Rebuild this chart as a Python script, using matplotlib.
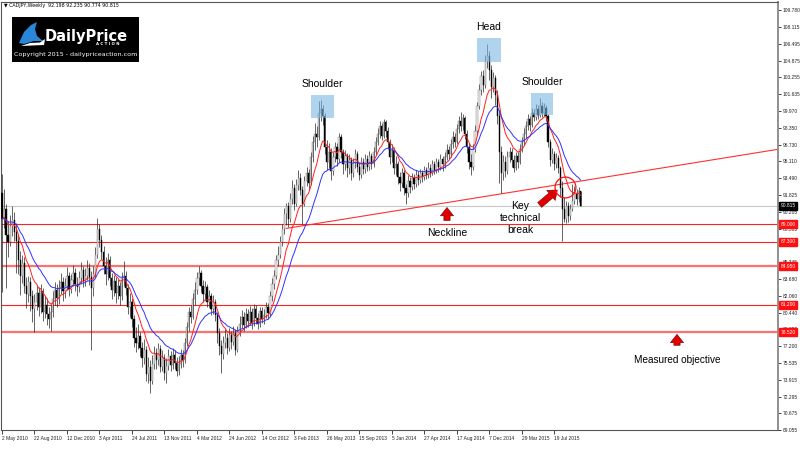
import matplotlib
import numpy as np
import pandas as pd

matplotlib.use("Agg")
import matplotlib.pyplot as plt  # noqa: E402
from matplotlib.patches import Rectangle, Polygon  # noqa: E402
from matplotlib.transforms import blended_transform_factory  # noqa: E402

# weekly CADJPY bars, 2 May 2010 .. 25 Oct 2015 (open = previous close)
first_open = 92.0
closes = [
    89.5, 90.5, 88.0, 87.3, 88.8, 89.4, 88.3, 87.4, 85.5, 84.0, 85.2, 83.0, 82.2, 83.4, 82.0, 80.8,
    81.5, 82.3, 81.0, 82.5, 80.5, 81.2, 80.3, 79.8, 80.5, 81.8, 82.6, 81.9, 82.8, 83.4, 82.5, 83.0,
    84.0, 82.7, 83.6, 84.3, 83.2, 82.9, 83.8, 84.6, 83.5, 84.0, 84.8, 83.9, 82.8, 84.2, 86.0, 88.5,
    87.5, 86.3, 85.0, 84.2, 85.5, 83.8, 82.6, 83.5, 82.3, 83.0, 82.0, 83.8, 84.0, 82.8, 81.0, 81.5,
    79.8, 78.0, 77.5, 78.2, 77.0, 76.0, 76.8, 74.5, 75.2, 73.8, 75.5, 76.5, 75.8, 76.9, 75.2, 76.0,
    74.6, 75.3, 76.2, 75.4, 76.3, 75.6, 74.8, 75.5, 76.3, 75.8, 77.5, 79.0, 80.5, 80.0, 81.8, 82.6,
    83.8, 84.3, 83.0, 82.2, 82.9, 81.5, 82.0, 80.8, 81.5, 80.2, 78.5, 77.2, 76.4, 77.5, 78.0, 77.0,
    78.3, 77.6, 78.5, 76.8, 78.6, 79.3, 80.0, 79.2, 80.3, 79.6, 80.5, 79.4, 80.8, 79.9, 79.3, 80.6,
    79.8, 80.2, 81.0, 80.4, 82.0, 83.2, 84.0, 85.5, 86.0, 87.3, 88.5, 90.0, 90.8, 89.5, 91.5, 92.5,
    91.0, 92.8, 93.5, 92.3, 91.0, 93.2, 94.0, 93.0, 95.5, 97.0, 97.8, 97.5, 99.8, 100.2, 99.5, 96.5,
    95.0, 96.0, 94.2, 95.5, 96.5, 95.3, 97.5, 96.0, 94.8, 95.6, 94.5, 95.2, 94.0, 94.9, 95.8, 94.6,
    93.8, 95.0, 94.4, 95.3, 94.6, 95.6, 94.8, 96.0, 97.0, 97.8, 98.5, 97.6, 98.9, 98.0, 97.0, 95.5,
    96.2, 94.5, 94.8, 93.6, 93.0, 94.0, 92.5, 92.0, 93.2, 92.6, 93.5, 92.9, 93.8, 93.3, 94.0, 93.6,
    94.3, 93.8, 94.5, 94.0, 94.8, 94.3, 95.0, 94.6, 95.3, 94.8, 95.5, 96.2, 95.8, 96.8, 97.5, 97.0,
    98.2, 99.0, 98.5, 99.3, 97.8, 96.5, 95.0, 94.6, 96.3, 98.0, 100.5, 102.0, 103.4, 102.5, 104.8, 105.3,
    104.0, 102.3, 103.2, 101.5, 99.5, 96.0, 94.0, 95.0, 94.2, 95.5, 96.0, 95.2, 94.5, 95.6, 95.0, 96.3,
    97.0, 97.8, 98.5, 99.2, 98.6, 99.8, 99.4, 100.2, 99.6, 100.5, 99.8, 100.3, 99.5, 97.0, 95.2, 95.8,
    94.8, 95.4, 94.5, 92.5, 90.5, 89.5, 90.8, 89.8, 90.5, 91.3, 92.0, 91.5, 92.198, 90.815,
]
highs = [
    93.9, 92.4, 91.0, 89.3, 89.9, 90.8, 90.2, 89.1, 88.0, 86.4, 86.0, 85.8, 83.9, 84.0, 83.9, 82.6,
    82.2, 83.1, 82.9, 83.2, 82.8, 82.0, 81.9, 81.0, 81.3, 82.5, 83.4, 83.2, 83.6, 84.3, 83.9, 83.8,
    84.9, 84.4, 84.2, 85.1, 84.8, 83.9, 84.5, 85.3, 85.0, 84.8, 85.5, 85.2, 84.5, 85.0, 86.8, 89.6,
    89.0, 88.0, 86.9, 85.8, 86.2, 85.9, 84.3, 84.1, 83.9, 83.7, 83.4, 84.4, 85.4, 84.5, 83.2, 82.3,
    81.9, 80.2, 79.0, 79.3, 78.6, 77.6, 77.9, 77.2, 76.1, 75.8, 76.3, 77.2, 77.0, 77.5, 77.3, 76.8,
    76.4, 76.0, 76.9, 76.7, 77.0, 76.8, 76.1, 76.2, 76.9, 76.8, 78.0, 79.5, 81.0, 81.2, 82.3, 83.4,
    84.4, 85.0, 84.6, 83.6, 83.5, 83.2, 82.6, 82.3, 82.1, 81.8, 80.5, 78.9, 77.8, 78.2, 78.8, 78.5,
    78.9, 78.7, 79.1, 78.8, 79.1, 80.1, 80.7, 80.5, 80.9, 80.8, 81.1, 80.9, 81.3, 81.2, 80.4, 81.0,
    81.0, 80.8, 81.5, 81.4, 82.5, 83.8, 84.6, 86.0, 86.9, 87.9, 89.0, 90.6, 91.1, 91.2, 92.0, 93.3,
    92.9, 93.4, 94.3, 94.0, 92.7, 93.7, 94.6, 94.4, 96.0, 97.6, 98.8, 98.5, 101.0, 101.1, 100.6, 99.8,
    97.2, 96.9, 96.4, 96.0, 97.0, 96.9, 97.9, 97.8, 96.3, 96.2, 95.9, 95.8, 95.5, 95.4, 96.3, 96.1,
    95.0, 95.5, 95.4, 95.8, 95.7, 96.1, 95.9, 96.5, 97.5, 98.3, 99.0, 98.8, 99.2, 99.1, 98.4, 97.3,
    96.8, 96.5, 95.6, 95.1, 94.1, 94.5, 94.3, 92.9, 93.8, 93.6, 94.0, 93.9, 94.3, 94.2, 94.4, 94.3,
    94.7, 94.6, 95.0, 94.8, 95.2, 95.1, 95.4, 95.3, 95.8, 95.6, 96.0, 96.8, 96.6, 97.3, 98.0, 97.9,
    98.7, 99.5, 99.9, 99.7, 99.5, 98.1, 96.9, 95.8, 96.8, 98.6, 100.9, 102.6, 103.9, 104.0, 105.4, 106.5,
    105.8, 104.4, 103.8, 103.5, 102.0, 100.1, 96.6, 95.7, 95.6, 96.1, 96.5, 96.4, 95.7, 96.0, 96.0, 96.8,
    97.5, 98.3, 99.0, 99.7, 99.5, 100.3, 100.2, 100.7, 100.6, 101.2, 100.9, 100.8, 100.6, 99.7, 97.3, 96.4,
    96.1, 95.9, 95.7, 94.7, 93.2, 91.6, 91.3, 91.2, 91.0, 92.9, 92.7, 92.4, 92.6, 92.235,
]
lows = [
    82.4, 88.6, 82.8, 85.8, 86.9, 87.9, 87.4, 84.3, 84.2, 82.1, 83.3, 82.3, 80.9, 81.5, 80.6, 79.5,
    78.6, 80.7, 80.1, 80.4, 79.6, 79.9, 79.2, 78.9, 78.7, 80.0, 81.2, 81.0, 81.3, 82.2, 81.6, 81.9,
    82.6, 82.0, 82.3, 83.0, 82.5, 82.0, 82.4, 83.2, 82.9, 83.0, 83.6, 83.1, 76.8, 82.0, 83.9, 85.7,
    86.8, 85.6, 84.2, 83.1, 83.6, 83.0, 81.8, 82.0, 81.4, 81.8, 81.2, 81.7, 83.0, 82.1, 80.3, 80.0,
    79.0, 77.1, 76.6, 76.9, 76.2, 75.2, 75.5, 73.8, 73.6, 72.6, 73.5, 75.0, 75.0, 75.4, 74.7, 74.8,
    73.9, 73.6, 74.9, 74.8, 75.0, 75.0, 74.3, 74.4, 75.1, 75.2, 75.6, 77.2, 78.7, 79.4, 79.8, 81.2,
    82.2, 83.1, 82.4, 81.5, 81.7, 81.0, 81.0, 80.2, 80.3, 79.6, 77.5, 76.3, 74.6, 75.9, 77.0, 76.4,
    76.7, 76.9, 77.3, 76.3, 76.6, 78.2, 78.9, 78.7, 78.9, 79.0, 79.2, 78.8, 79.1, 79.3, 78.8, 79.0,
    79.4, 79.3, 79.9, 79.8, 80.1, 81.6, 82.7, 83.7, 85.0, 85.7, 86.9, 88.1, 88.9, 88.7, 89.2, 91.0,
    90.4, 90.8, 92.3, 91.8, 89.0, 90.8, 92.7, 92.3, 92.8, 95.0, 96.2, 96.5, 97.2, 99.0, 98.6, 95.8,
    94.3, 94.5, 93.3, 93.8, 95.0, 94.7, 95.0, 95.4, 93.9, 94.3, 93.6, 93.9, 93.3, 93.6, 94.5, 94.1,
    93.3, 93.5, 93.9, 94.0, 94.2, 94.3, 94.4, 94.6, 95.7, 96.7, 97.4, 97.2, 97.4, 97.5, 96.3, 94.8,
    95.0, 93.9, 93.8, 92.9, 92.2, 92.6, 91.8, 91.0, 91.6, 92.0, 92.3, 92.4, 92.6, 92.8, 93.0, 93.1,
    93.3, 93.4, 93.5, 93.6, 93.8, 93.9, 94.0, 94.1, 94.3, 94.2, 94.5, 95.2, 95.3, 95.5, 96.4, 96.5,
    96.8, 97.9, 98.0, 98.1, 97.3, 95.9, 94.4, 93.8, 94.3, 96.0, 97.7, 100.2, 101.5, 101.8, 102.2, 104.2,
    103.0, 101.2, 101.8, 100.6, 98.7, 93.0, 92.0, 93.3, 93.6, 93.9, 95.0, 94.6, 94.1, 94.3, 94.5, 94.8,
    96.0, 96.7, 97.4, 98.1, 98.0, 98.4, 99.0, 99.1, 99.2, 99.4, 99.4, 99.5, 99.0, 96.5, 94.7, 94.9,
    94.3, 94.5, 94.0, 91.6, 87.4, 89.2, 89.1, 89.2, 89.4, 90.3, 91.0, 90.9, 91.2, 90.774,
]

date_labels = ["2 May 2010", "22 Aug 2010", "12 Dec 2010", "3 Apr 2011", "24 Jul 2011",
               "13 Nov 2011", "4 Mar 2012", "24 Jun 2012", "14 Oct 2012", "3 Feb 2013",
               "26 May 2013", "15 Sep 2013", "5 Jan 2014", "27 Apr 2014", "17 Aug 2014",
               "7 Dec 2014", "29 Mar 2015", "19 Jul 2015"]
price_ticks = [109.780, 108.115, 106.495, 104.875, 103.255, 101.635, 99.970, 98.350, 96.730,
               95.110, 93.490, 91.825, 90.205, 88.585, 86.965, 85.345, 83.680, 82.060, 80.440,
               78.820, 77.200, 75.535, 73.915, 72.295, 70.675, 69.055]
levels = [89.000, 87.300, 84.950, 81.200, 78.520]
last_price = 90.815
neckline = [(140, 88.6), (380, 96.2)]
title = "\u25bc CADJPY,Weekly  92.198 92.235 90.774 90.815"

closes = np.array(closes)
highs = np.array(highs)
lows = np.array(lows)
opens = np.r_[first_open, closes[:-1]]
idx = np.arange(len(closes))
ema_fast = pd.Series(closes).ewm(span=10, adjust=False).mean()
ema_slow = pd.Series(closes).ewm(span=21, adjust=False).mean()

PX_BAR = 2.03
fig = plt.figure(figsize=(8, 4.57), dpi=100)
ax = fig.add_axes([1 / 800, 27 / 457, 777 / 800, 428 / 457])
ax.set_xlim(-0.5, -0.5 + 777 / PX_BAR)
ax.set_ylim(69.055, 109.78 + 8 * (109.78 - 69.055) / 420)

# levels + current price
for lvl in levels:
    heavy = lvl in (84.950, 78.520)
    ax.axhline(lvl, color="#ff7070" if heavy else "#ff2020", lw=1.6 if heavy else 0.8, zorder=1)
ax.axhline(last_price, color="#c8c8c8", lw=0.8, zorder=1)

# neckline ray
(x0, y0), (x1, y1) = neckline
slope = (y1 - y0) / (x1 - x0)
xr = ax.get_xlim()[1]
ax.plot([x0, xr], [y0, y0 + slope * (xr - x0)], color="#ff3030", lw=0.8, zorder=2)

# candles
up = closes >= opens
ax.vlines(idx, lows, highs, color="#262626", lw=0.5, zorder=3)
ax.bar(idx[up], (closes - opens)[up], bottom=opens[up], width=0.6, color="#f0f0f0",
       edgecolor="#707070", lw=0.3, zorder=4)
ax.bar(idx[~up], (opens - closes)[~up], bottom=closes[~up], width=0.6, color="black",
       edgecolor="black", lw=0.3, zorder=4)

ax.plot(idx, ema_fast, color="#ff2020", lw=0.7, zorder=5)
ax.plot(idx, ema_slow, color="#3030ff", lw=0.7, zorder=5)

# pattern boxes
font = "Liberation Sans"
for (xa, xb, ya, yb), label in [((152.2, 163.5, 99.31, 101.54), "Shoulder"),
                                ((234.0, 245.8, 104.74, 107.07), "Head"),
                                ((260.6, 271.4, 99.6, 101.73), "Shoulder")]:
    ax.add_patch(Rectangle((xa, ya), xb - xa, yb - ya, fc="#7db8e4", ec="none", alpha=0.6, zorder=6))
    ax.text((xa + xb) / 2, yb + 0.55, label, ha="center", va="bottom", fontsize=7.5,
            family=font, zorder=7)

arrow = dict(arrowstyle="simple,head_length=0.6,head_width=0.95,tail_width=0.45",
             fc="#e00000", ec="#700000", lw=0.4, mutation_scale=10)
ax.annotate("", xy=(219.2, 90.9), xytext=(219.2, 89.1), arrowprops=arrow, zorder=8)
ax.text(219.2, 88.15, "Neckline", ha="center", va="center", fontsize=7.5, family=font)
ax.text(255.2, 89.6, "Key\ntechnical\nbreak", ha="center", va="center", fontsize=7.5,
        family=font, linespacing=1.25)
ax.annotate("", xy=(274.6, 92.5), xytext=(263.8, 90.7), arrowprops=arrow, zorder=8)
ax.plot([277.3], [92.62], marker="o", ms=15, mfc="none", mec="#ff1010", mew=0.9, zorder=8)
ax.annotate("", xy=(332.5, 78.6), xytext=(332.5, 77.0), arrowprops=arrow, zorder=8)
ax.text(332.5, 75.8, "Measured objective", ha="center", va="center", fontsize=7.2, family=font)

# axes styling
for s in ax.spines.values():
    s.set_color("#555555")
    s.set_linewidth(0.8)
ax.spines["right"].set_color("#909090")
ax.spines["right"].set_linewidth(1.4)
ax.yaxis.tick_right()
ax.set_yticks(price_ticks)
ax.set_yticklabels([f"{v:.3f}" for v in price_ticks])
ax.set_xticks(range(0, 16 * len(date_labels), 16))
ax.set_xticklabels(date_labels)
for lbl in ax.get_xticklabels():
    lbl.set_ha("left")
ax.tick_params(axis="y", direction="out", length=2, width=0.6, pad=1.5, labelsize=3.5,
               colors="#222222")
ax.tick_params(axis="x", direction="out", length=3, width=0.6, pad=1.5, labelsize=3.5,
               colors="#222222")
for lbl in ax.get_xticklabels() + ax.get_yticklabels():
    lbl.set_family(font)

tr = blended_transform_factory(ax.transAxes, ax.transData)
for lvl in levels:
    ax.text(1.003, lvl, f"{lvl:.3f}", transform=tr, ha="left", va="center", fontsize=3.5,
            color="white", family=font, clip_on=False, zorder=10,
            bbox=dict(boxstyle="square,pad=0.3", fc="#ff1010", ec="#ff1010"))
ax.text(1.003, last_price, f"{last_price:.3f}", transform=tr, ha="left", va="center",
        fontsize=3.5, color="white", family=font, clip_on=False, zorder=10,
        bbox=dict(boxstyle="square,pad=0.3", fc="black", ec="black"))

fig.text(4 / 800, 1 - 5 / 457, title, fontsize=3.4, va="center", ha="left", family="DejaVu Sans")

# logo
logo = fig.add_axes([12 / 800, 1 - 62 / 457, 127 / 800, 45 / 457])
logo.set_xlim(0, 127)
logo.set_ylim(45, 0)
logo.set_facecolor("black")
logo.set_xticks([])
logo.set_yticks([])
for s in logo.spines.values():
    s.set_visible(False)
logo.add_patch(Polygon([(7, 26), (12, 15), (19, 8), (25, 5), (23, 12), (25, 19), (31, 24),
                        (22, 24), (12, 27)], closed=True, fc="#2a86d8", ec="none"))
logo.add_patch(Polygon([(9, 29), (18, 26), (28, 25.5), (33, 22), (32, 28), (20, 28.5)],
                       closed=True, fc="white", ec="none"))
logo.text(33, 24, "DailyPrice", color="white", fontsize=10.5, fontweight="bold",
          family="DejaVu Sans", va="baseline", ha="left")
logo.text(96, 27.3, "A C T I O N", color="white", fontsize=2.8, fontweight="bold",
          family="DejaVu Sans", va="center", ha="center")
logo.text(63.5, 37.5, "Copyright 2015 - dailypriceaction.com", color="white", fontsize=4.6,
          family="DejaVu Sans", va="center", ha="center")

fig.savefig("out.png", dpi=100)
